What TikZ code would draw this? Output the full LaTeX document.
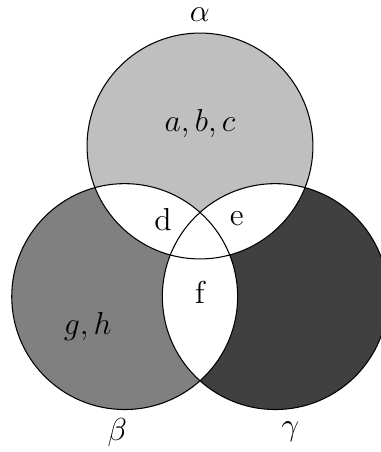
\documentclass[tikz,border=0pt]{standalone}
\begin{document}
\begin{tikzpicture}[lbl/.style={font=\large}]
        \useasboundingbox (-2.656,-4.064) rectangle (2.404,1.939);
        \def\alphaKolo{(0,0) circle (1.5cm)}
        \def\betaKolo{(-1,-2) circle (1.5cm)}
        \def\gammaKolo{(1,-2) circle (1.5cm)}
        
        % Wypelnienia
        \fill[gray!50] \alphaKolo;
        \fill[gray] \betaKolo;
        \fill[gray!50!black] \gammaKolo;
        
        % Czesci wspolne - biale
        \begin{scope}
            \clip \alphaKolo;
            \fill[white] \betaKolo;
            \fill[white] \gammaKolo;
        \end{scope}
        \begin{scope}
            \clip \betaKolo;
            \fill[white] \gammaKolo;
        \end{scope}
        
        % Obrysy
        \draw \alphaKolo;
        \draw \betaKolo;
        \draw \gammaKolo;
        
        % Oznaczenia
        \node[lbl] (alfa) at (0,1.74) {$\alpha$};
        \node[lbl] (beta) at (-1.1,-3.8) {$\beta$};
        \node[lbl] (gamma) at (1.2,-3.8) {$\gamma$};
        \node[lbl] (abc) at (0,0.3) {$a, b, c$};
        \node[lbl] (gh) at (-1.49,-2.4) {$g, h$};
        \node[lbl] (d) at (-0.49,-0.98) {d};
        \node[lbl] (e) at (0.49,-0.96) {e};
        \node[lbl] (f) at (0,-1.94) {f};
    \end{tikzpicture}
\end{document}
